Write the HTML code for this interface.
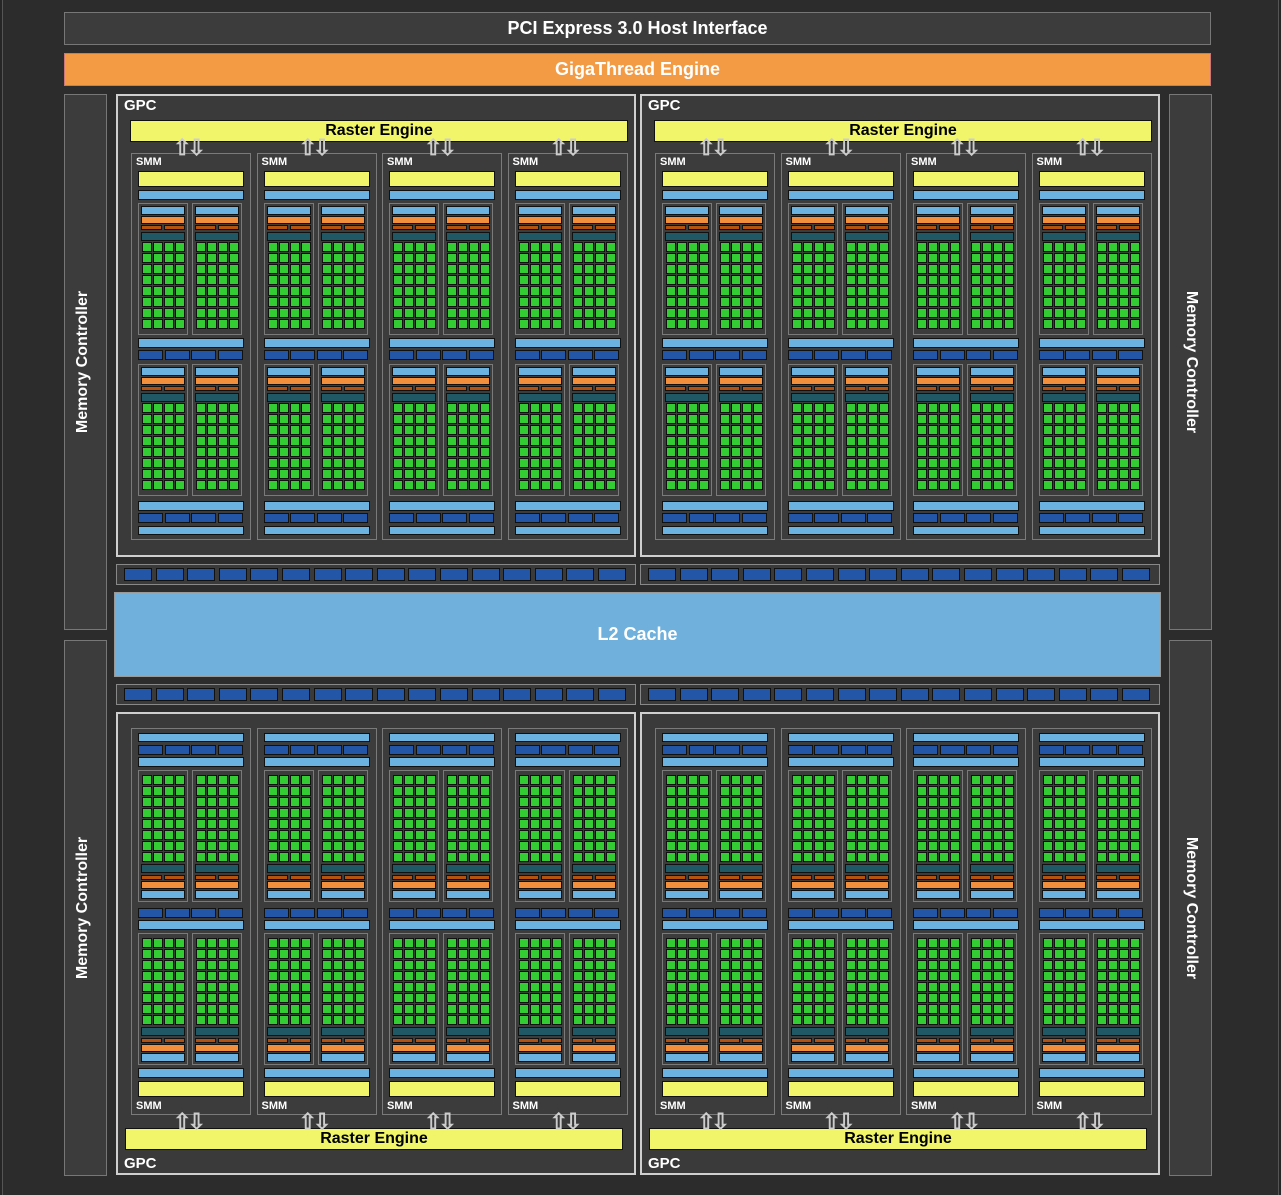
<!DOCTYPE html>
<html><head><meta charset="utf-8"><style>
body{margin:0;width:1281px;height:1195px;background:#262626;position:relative;overflow:hidden;font-family:"Liberation Sans",sans-serif}
div{position:absolute;box-sizing:border-box}
.t{color:#fff;font-weight:bold;text-align:center}
</style></head><body>
<div style="left:2px;top:0;width:1277px;height:1195px;background:#2c2c2c;border-left:1px solid #555;border-right:1px solid #555"></div>
<div class="t" style="left:64px;top:12px;width:1147px;height:33px;background:#3c3c3c;border:1px solid #777;font-size:18px;line-height:31px">PCI Express 3.0 Host Interface</div>
<div class="t" style="left:64px;top:53px;width:1147px;height:33px;background:#f39a45;border:1px solid #c77;font-size:18px;line-height:31px">GigaThread Engine</div>
<div style="left:64px;top:94px;width:43px;height:536px;background:#3c3c3c;border:1px solid #777"></div>
<div style="left:64px;top:640px;width:43px;height:536px;background:#3c3c3c;border:1px solid #777"></div>
<div style="left:1169px;top:94px;width:43px;height:536px;background:#3c3c3c;border:1px solid #777"></div>
<div style="left:1169px;top:640px;width:43px;height:536px;background:#3c3c3c;border:1px solid #777"></div>
<div class="t" style="left:-182px;top:352px;width:532px;height:20px;font-size:16px;transform:rotate(-90deg)">Memory Controller</div>
<div class="t" style="left:-182px;top:898px;width:532px;height:20px;font-size:16px;transform:rotate(-90deg)">Memory Controller</div>
<div class="t" style="left:924px;top:352px;width:532px;height:20px;font-size:16px;transform:rotate(90deg)">Memory Controller</div>
<div class="t" style="left:924px;top:898px;width:532px;height:20px;font-size:16px;transform:rotate(90deg)">Memory Controller</div>
<div class="t" style="left:114px;top:592px;width:1047px;height:85px;background:#6fb0dc;border:1px solid #999;font-size:18px;line-height:83px">L2 Cache</div>
<script>
var R=document.body;
function b(x,y,w,h,c,bd){var d=document.createElement('div');d.style.cssText='left:'+x+'px;top:'+y+'px;width:'+w+'px;height:'+h+'px;background:'+c+';border:'+(bd||'1px solid #111');R.appendChild(d);return d;}
function txt(x,y,s,fs){var d=document.createElement('div');d.className='t';d.style.cssText='left:'+x+'px;top:'+y+'px;font-size:'+fs+'px;text-align:left';d.textContent=s;R.appendChild(d);}
var Y='#f0f56a',LB='#6cb2e0',DB='#2456a8',OR='#f28f3c',BR='#b4530f',TE='#215866',GR='#33cc33';
function panel(x,y,flip){
 b(x,y,50,132,'#3c3c3c','1px solid #7a7a7a');
 function r(o,h,c){var yy=flip?y+132-o-h:y+o;b(x+3,yy,44,h,c);}
 r(3,9,LB);r(13,8,OR);
 var by=flip?y+132-22-5:y+22;b(x+3,by,21,5,BR);b(x+26,by,21,5,BR);
 r(29,9,TE);
 var g0=flip?y+132-127:y+39;
 for(var i=0;i<8;i++)for(var j=0;j<4;j++)b(x+4+j*11,g0+i*11,10,10,GR);
}
function smm(x,y,flip){
 var H=387;b(x,y,120,H,'#3c3c3c','1px solid #7a7a7a');
 function r(o,h,c,w,xo){var yy=flip?y+H-o-h:y+o;b(x+(xo||7),yy,w||106,h,c);return yy;}
 r(18,16,Y);r(37,10,LB);r(185,10,LB);
 for(var k=0;k<4;k++)r(197,10,DB,25,7+k*26.5);
 r(348,10,LB);for(var k=0;k<4;k++)r(360,10,DB,25,7+k*26.5);r(373,9,LB);
 var p1=flip?y+H-50-132:y+50, p2=flip?y+H-211-134:y+211;
 panel(x+7,p1,flip);panel(x+61,p1,flip);panel(x+7,p2,flip);panel(x+61,p2,flip);
 txt(x+5,flip?y+H-15:y+3,'SMM',11);
}
function arrows(x,y){var d=document.createElement('div');d.style.cssText='left:'+x+'px;top:'+y+'px;color:#ccc;font-size:22px;font-weight:bold;line-height:14px;letter-spacing:-4px';d.textContent='⇧⇩';R.appendChild(d);}
function gpc(x,y,flip){
 b(x,y,520,463,'#3a3a3a','2px solid #cfcfcf');
 var re=flip?y+463-47:y+26;
 var e=b(flip?x+9:x+14,re,498,22,Y);e.className='t';e.style.color='#000';e.style.fontSize='16px';e.style.lineHeight='20px';e.textContent='Raster Engine';
 txt(x+8,flip?y+443:y+3,'GPC',15);
 for(var k=0;k<4;k++){var sx=x+15+k*125.5;smm(sx,flip?y+16:y+59,flip);arrows(sx+42,flip?y+403:y+47);}
}
gpc(116,94,false);gpc(640,94,false);gpc(116,712,true);gpc(640,712,true);
function bus(x,y){b(x,y,520,21,'#3a3a3a','1px solid #888');for(var k=0;k<16;k++)b(x+8+k*31.6,y+4,28,13,DB);}
bus(116,564);bus(640,564);bus(116,684);bus(640,684);
</script>
</body></html>
